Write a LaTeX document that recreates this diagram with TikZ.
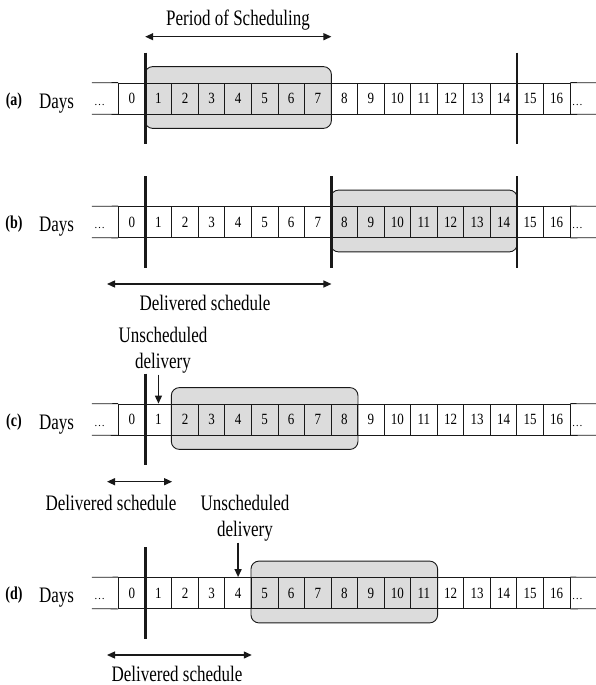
\documentclass[tikz,border=0pt]{standalone}
\usepackage{fontspec}
\setmainfont{Liberation Serif}
\usepackage{graphicx}
\usepackage{tikz}
\usetikzlibrary{arrows.meta,calc,backgrounds}
\definecolor{figline}{RGB}{25,25,25}
\definecolor{figbox}{RGB}{220,220,220}
\tikzset{
  cl/.style    ={draw=figline, line width=0.8pt, minimum width=26.55pt, minimum height=31pt, inner sep=0pt, font=\fontsize{13}{15}\selectfont},
  ce/.style    ={minimum width=26.55pt, minimum height=31pt, inner sep=2pt, text width=22.55pt, align=left, text height=13pt, text depth=0pt, font=\fontsize{11}{13}\selectfont},
  sc/.style    ={draw=figline, line width=0.8pt},
  scb/.style   ={draw=figline, line width=2.2pt},
  win/.style   ={draw=figline, line width=0.9pt, fill=figbox, rounded corners=8pt},
  lab/.style   ={font=\fontsize{17}{20}\selectfont, inner sep=1pt, yscale=1.3},
  labb/.style  ={font=\fontsize{14}{16}\bfseries, inner sep=1pt, yscale=1.3},
  twoway/.style={draw=figline, line width=1.3pt, {Triangle[length=8pt,width=7pt]}-{Triangle[length=8pt,width=7pt]}},
  ptr/.style   ={draw=figline, line width=1.3pt, -{Triangle[length=8pt,width=7pt]}},
}
\begin{document}
\begin{tikzpicture}[x=1pt,y=-1pt]
  \useasboundingbox (0,0) rectangle (596,685);
  % the four day strips
  \foreach \rw/\yc in {a/98.5,b/222,c/419.5,d/593}{
    \node[labb,anchor=base] (t\rw) at (14,\yc+6.5) {(\rw)};
    \node[lab,anchor=base] (n\rw) at (56.5,\yc+9.5) {Days};
    \node[ce] (\rw L) at (105.35,\yc) {\ldots};
    \foreach \i in {0,...,16}
      \node[cl] (\rw\i) at (131.9+26.55*\i,\yc) {\scalebox{1}[1.2]{\i}};
    \node[ce] (\rw R) at (583.25,\yc) {\ldots};
    \draw[sc] (\rw L.north west) -- (\rw0.north west) (\rw L.south west) -- (\rw0.south west);
    \draw[sc] (\rw16.north east) -- (\rw R.north east) (\rw16.south east) -- (\rw R.south east);
    \draw[scb] ($(\rw0.north east)+(0,30pt)$) -- ($(\rw0.south east)+(0,-30pt)$);
  }
  \draw[scb] ($(a14.north east)+(0,30pt)$) -- ($(a14.south east)+(0,-30pt)$);
  \draw[scb] ($(b7.north east)+(0,30pt)$) -- ($(b7.south east)+(0,-30pt)$);
  \draw[scb] ($(b14.north east)+(0,30pt)$) -- ($(b14.south east)+(0,-30pt)$);
  \begin{scope}[on background layer]
    \draw[win] ($(a1.north west)+(0,16pt)$) rectangle ($(a7.south east)+(0,-14pt)$);
    \draw[win] ($(b8.north west)+(0,16pt)$) rectangle ($(b14.south east)+(0,-14pt)$);
    \draw[win] ($(c2.north west)+(0,16pt)$) rectangle ($(c8.south east)+(0,-14pt)$);
    \draw[win] ($(d5.north west)+(0,16pt)$) rectangle ($(d11.south east)+(0,-14pt)$);
  \end{scope}
  % (a)
  \node[lab] (per) at (238,20.5) {Period of Scheduling};
  \coordinate (psa) at (145.2,36.7);
  \draw[twoway] (psa) -- (psa -| a7.east);
  % (b)
  \coordinate (dsb) at (107,284);
  \draw[twoway] (dsb) -- (dsb -| b7.east);
  \node[lab] (dlb) at (205,302.5) {Delivered schedule};
  % (c)
  \node[lab,align=center] (unc) at (163,350) {Unscheduled\\delivery};
  \draw[ptr] (unc.south -| c1.north) -- (c1.north);
  \coordinate (dsc) at (107,481.7);
  \draw[twoway] (dsc) -- (dsc -| c1.east);
  \node[lab] (dlc) at (111,502.5) {Delivered schedule};
  % (d)
  \node[lab,align=center] (und) at (245,518) {Unscheduled\\delivery};
  \draw[ptr] (und.south -| d4.north) -- (d4.north);
  \coordinate (dsd) at (107,655);
  \draw[twoway] (dsd) -- (dsd -| d4.east);
  \node[lab] (dld) at (177,673.5) {Delivered schedule};
\end{tikzpicture}
\end{document}
